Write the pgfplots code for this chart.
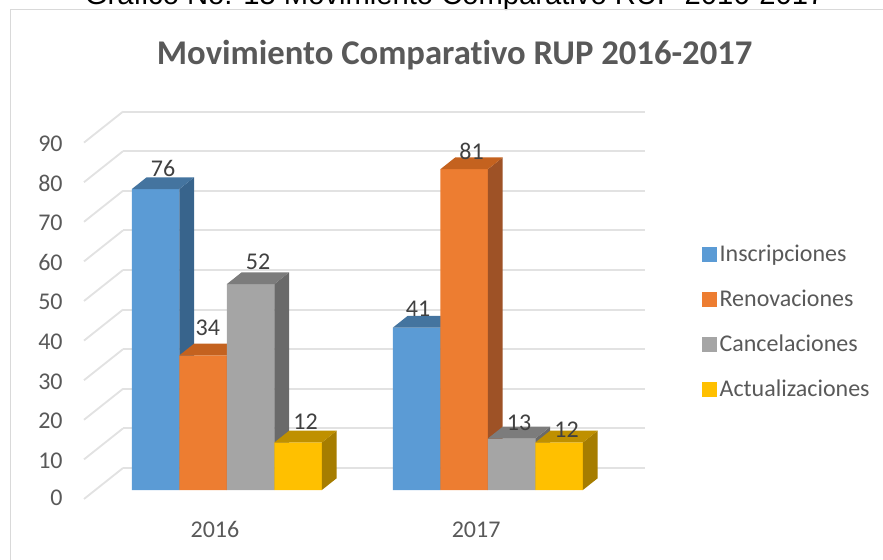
\documentclass[border=0pt]{standalone}
\usepackage{fontspec}
\setmainfont{Carlito}[Ligatures={NoCommon}]
\newfontfamily\arialfont{Liberation Sans}
\usepackage{pgfplots}
\pgfplotsset{compat=1.18}
\definecolor{grisgrid}{HTML}{E2E2E2}
\definecolor{marco}{HTML}{D9D9D9}
\definecolor{texto}{HTML}{595959}
\definecolor{etiqueta}{HTML}{404040}
\definecolor{azul}{HTML}{5B9BD5}
\definecolor{azulS}{HTML}{38648C}
\definecolor{azulT}{HTML}{44749F}
\definecolor{naranja}{HTML}{ED7D31}
\definecolor{naranjaS}{HTML}{9E5226}
\definecolor{naranjaT}{HTML}{C4621F}
\definecolor{gris}{HTML}{A5A5A5}
\definecolor{grisS}{HTML}{6A6A6A}
\definecolor{grisT}{HTML}{7C7C7C}
\definecolor{amarillo}{HTML}{FFC000}
\definecolor{amarilloS}{HTML}{A67D00}
\definecolor{amarilloT}{HTML}{BF9000}
% one box: x of left edge, value, colour prefix
\newcommand{\caja}[3]{%
  \pgfmathsetmacro\xa{#1}\pgfmathsetmacro\xb{#1+0.182}%
  \addplot3[fill=#3,draw=none,no marks,forget plot] coordinates {(\xa,0.29,0) (\xb,0.29,0) (\xb,0.29,#2) (\xa,0.29,#2) (\xa,0.29,0)};
  \addplot3[fill=#3S,draw=none,no marks,forget plot] coordinates {(\xb,0.29,0) (\xb,0.67,0) (\xb,0.67,#2) (\xb,0.29,#2) (\xb,0.29,0)};
  \addplot3[fill=#3T,draw=none,no marks,forget plot] coordinates {(\xa,0.29,#2) (\xb,0.29,#2) (\xb,0.67,#2) (\xa,0.67,#2) (\xa,0.29,#2)};
}
% value label above a box, offsets in pt
\newcommand{\etiq}[4]{\node[etiqueta,font=\fontsize{18}{18}\selectfont] at (axis cs:#1+0.091,0.48,#2) [xshift=#3pt,yshift=#4pt] {#2};}
\begin{document}
\begin{tikzpicture}[x=1pt,y=1pt]
\path[use as bounding box] (0,0) rectangle (662.25,420);
\begin{scope}
\clip (0,0) rectangle (662.25,420);
\node[anchor=base,font=\arialfont\fontsize{21.9}{21.9}\selectfont,black] at (341,416.5) {Gráfico No. 15 Movimiento Comparativo RUP 2016-2017};
\draw[marco,line width=1pt] (7.9,0) -- (7.9,413) -- (662.25,413);
\end{scope}
\node[font=\bfseries\fontsize{26}{26}\selectfont,texto] at (341,379) {Movimiento Comparativo RUP 2016-2017};
\begin{axis}[
  at={(63pt,45.75pt)}, anchor=origin,
  x={(195.75pt,0pt)}, y={(29.25pt,23.25pt)}, z={(0pt,2.97pt)},
  xmin=0, xmax=2, ymin=0, ymax=1, zmin=0, zmax=90,
  clip=false,
  xtick={0.5,1.5}, xticklabels={2016,2017}, ytick=\empty,
  ztick={0,10,...,90},
  xmajorgrids=false, ymajorgrids=false, zmajorgrids=true,
  grid style={grisgrid,line width=1.4pt},
  axis line style={draw=none}, tick style={draw=none},
  /pgf/number format/assume math mode=true,
  tick label style={texto,font=\fontsize{18}{18}\selectfont},
  xticklabel style={yshift=-13.5pt,xshift=5pt},
  zticklabel style={xshift=-12.5pt,yshift=3.5pt},
  legend cell align=left,
  legend style={at={(axis cs:2.353,0,44.7)},anchor=west,draw=none,fill=none,
    font=\fontsize{18}{18}\selectfont,text=texto,row sep=15.7pt},
  legend image code/.code={\fill[#1] (-2pt,-5.25pt) rectangle (8.5pt,5.25pt);},
]
\addlegendimage{azul}\addlegendentry{Inscripciones}
\addlegendimage{naranja}\addlegendentry{Renovaciones}
\addlegendimage{gris}\addlegendentry{Cancelaciones}
\addlegendimage{amarillo}\addlegendentry{Actualizaciones}
\caja{0.140}{76}{azul}
\caja{0.322}{34}{naranja}
\caja{0.504}{52}{gris}
\caja{0.686}{12}{amarillo}
\caja{1.140}{41}{azul}
\caja{1.322}{81}{naranja}
\caja{1.504}{13}{gris}
\caja{1.686}{12}{amarillo}
\etiq{0.140}{76}{0}{11}
\etiq{0.322}{34}{-2}{16}
\etiq{0.504}{52}{0}{12}
\etiq{0.686}{12}{0}{11}
\etiq{1.140}{41}{-4.5}{10}
\etiq{1.322}{81}{0}{9}
\etiq{1.504}{13}{0}{7.5}
\etiq{1.686}{12}{0}{5.5}
\end{axis}
\end{tikzpicture}
\end{document}
